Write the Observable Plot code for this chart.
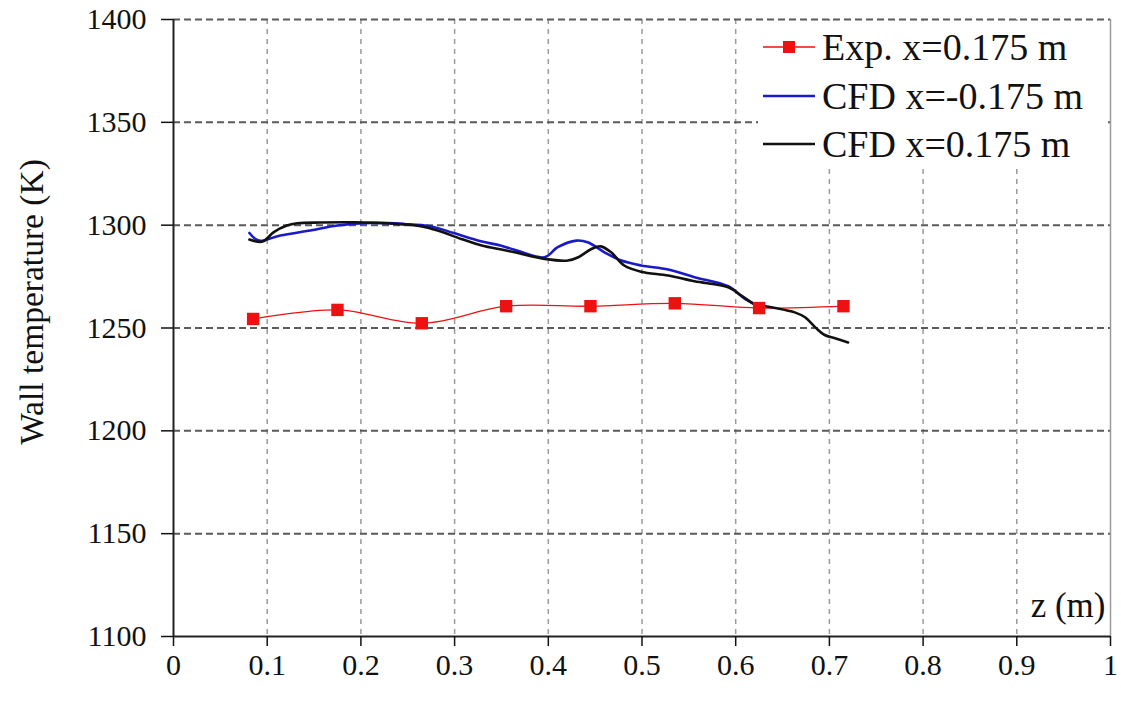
<!DOCTYPE html>
<html><head><meta charset="utf-8">
<script src="https://cdn.jsdelivr.net/npm/d3@7"></script>
<script src="https://cdn.jsdelivr.net/npm/@observablehq/plot@0.6"></script>
<style>
body{margin:0;background:#fff;}
#wrap{position:relative;width:1121px;height:711px;}
#legend{position:absolute;left:758px;top:21px;}
</style></head><body>
<div id="wrap"></div>
<script>
// ---- data ----
const zExp = [0.085, 0.175, 0.265, 0.355, 0.445, 0.535, 0.625, 0.715];
const tExp = [1254.4, 1258.8, 1252.3, 1260.6, 1260.6, 1262.0, 1259.7, 1260.6];

const zBlack = [0.081,0.095,0.107,0.121,0.132,0.157,0.193,0.228,0.264,0.282,0.307,0.330,0.350,0.364,0.396,0.421,0.432,0.446,0.456,0.467,0.481,0.499,0.528,0.556,0.592,0.606,0.620,0.638,0.663,0.674,0.685,0.695,0.706,0.720];
const tBlack = [1293.0,1292.0,1296.6,1299.8,1300.9,1301.3,1301.4,1300.9,1299.5,1297.4,1293.3,1290.0,1288.2,1286.8,1283.6,1282.8,1284.4,1288.4,1289.7,1286.8,1280.4,1277.4,1275.5,1272.7,1269.8,1265.8,1261.7,1260.1,1257.6,1255.2,1250.3,1246.6,1245.0,1243.0];

const zBlue = [0.081,0.091,0.114,0.146,0.175,0.211,0.246,0.274,0.299,0.328,0.349,0.364,0.396,0.410,0.430,0.442,0.460,0.478,0.499,0.528,0.556,0.592,0.610,0.622];
const tBlue = [1296.2,1292.5,1295.0,1297.4,1299.8,1301.1,1300.6,1299.5,1296.2,1292.2,1290.1,1288.1,1284.4,1289.3,1292.5,1291.7,1286.8,1282.8,1280.4,1278.4,1274.7,1270.3,1264.1,1261.2];

const xTicks = [0,0.1,0.2,0.3,0.4,0.5,0.6,0.7,0.8,0.9,1];
const yTicks = [1100,1150,1200,1250,1300,1350,1400];
const xGrid = [0.1,0.2,0.3,0.4,0.5,0.6,0.7,0.8,0.9];
const yGrid = [1150,1200,1250,1300,1350,1400];

const seriesNames = ["Exp. x=0.175 m", "CFD x=-0.175 m", "CFD x=0.175 m"];
const seriesColors = ["#ee1111", "#1a1ac8", "#111111"];
const yTitle = "Wall temperature (K)";
const xTitle = "z (m)";

const FONT = '"Liberation Serif","Times New Roman",serif';

const exp = zExp.map((z, i) => ({z, t: tExp[i]}));
const black = zBlack.map((z, i) => ({z, t: tBlack[i]}));
const blue = zBlue.map((z, i) => ({z, t: tBlue[i]}));

const plot = Plot.plot({
  width: 1121, height: 711,
  marginLeft: 173, marginRight: 11, marginTop: 19, marginBottom: 75,
  style: {fontFamily: FONT, background: "#fff", color: "#111", overflow: "visible"},
  x: {domain: [0, 1]},
  y: {domain: [1100, 1400]},
  marks: [
    Plot.ruleX(xGrid, {stroke: "#9a9a9a", strokeWidth: 1.5, strokeDasharray: "5,5"}),
    Plot.ruleY(yGrid, {stroke: "#5a5a5a", strokeWidth: 2, strokeDasharray: "7,4"}),
    Plot.ruleX([1], {stroke: "#9a9a9a", strokeWidth: 1.5}),
    Plot.ruleX([0], {stroke: "#222", strokeWidth: 2}),
    Plot.ruleY([1100], {stroke: "#222", strokeWidth: 2}),
    Plot.axisX({ticks: xTicks, tickSize: 10, tickPadding: 7, strokeWidth: 1.5,
      tickFormat: d => String(+d.toFixed(1)), fontSize: 30, label: null}),
    Plot.axisY({ticks: yTicks, tickSize: 12, tickPadding: 15, strokeWidth: 1.5,
      tickFormat: d => String(d), fontSize: 30, label: null}),
    Plot.text([yTitle], {frameAnchor: "left", rotate: -90, dx: -141, dy: -26,
      fontSize: 33.5, fill: "#111", textAnchor: "middle"}),
    Plot.text([xTitle], {frameAnchor: "bottom-right", dx: -5, dy: -20,
      fontSize: 35, fill: "#111", textAnchor: "end", lineAnchor: "bottom"}),
    Plot.line(exp, {x: "z", y: "t", stroke: seriesColors[0], strokeWidth: 1.3, curve: "catmull-rom"}),
    Plot.line(blue, {x: "z", y: "t", stroke: seriesColors[1], strokeWidth: 2.6, curve: "catmull-rom"}),
    Plot.line(black, {x: "z", y: "t", stroke: seriesColors[2], strokeWidth: 2.6, curve: "catmull-rom"}),
    Plot.dot(exp, {x: "z", y: "t", symbol: "square", r: 7, fill: seriesColors[0], stroke: "none"})
  ]
});

const wrap = document.getElementById("wrap");
wrap.appendChild(plot);

// legend overlay (white box over the grid, like the original)
const ns = "http://www.w3.org/2000/svg";
const lg = document.createElementNS(ns, "svg");
lg.setAttribute("id", "legend");
lg.setAttribute("width", 348);
lg.setAttribute("height", 145);
lg.style.fontFamily = FONT;
const bg = document.createElementNS(ns, "rect");
bg.setAttribute("width", 348); bg.setAttribute("height", 145); bg.setAttribute("fill", "#fff");
lg.appendChild(bg);
const rowY = [26, 75, 123];
seriesNames.forEach((name, i) => {
  const ln = document.createElementNS(ns, "line");
  ln.setAttribute("x1", 5); ln.setAttribute("x2", 57);
  ln.setAttribute("y1", rowY[i]); ln.setAttribute("y2", rowY[i]);
  ln.setAttribute("stroke", seriesColors[i]);
  ln.setAttribute("stroke-width", i === 0 ? 1.5 : 2.6);
  lg.appendChild(ln);
  if (i === 0) {
    const sq = document.createElementNS(ns, "rect");
    sq.setAttribute("x", 31 - 6); sq.setAttribute("y", rowY[i] - 6);
    sq.setAttribute("width", 12); sq.setAttribute("height", 12);
    sq.setAttribute("fill", seriesColors[0]);
    lg.appendChild(sq);
  }
  const tx = document.createElementNS(ns, "text");
  tx.setAttribute("x", 64); tx.setAttribute("y", rowY[i]);
  tx.setAttribute("dy", "0.35em");
  tx.setAttribute("font-size", 38);
  tx.setAttribute("fill", "#111");
  tx.textContent = name;
  lg.appendChild(tx);
});
wrap.appendChild(lg);
</script>
</body></html>
